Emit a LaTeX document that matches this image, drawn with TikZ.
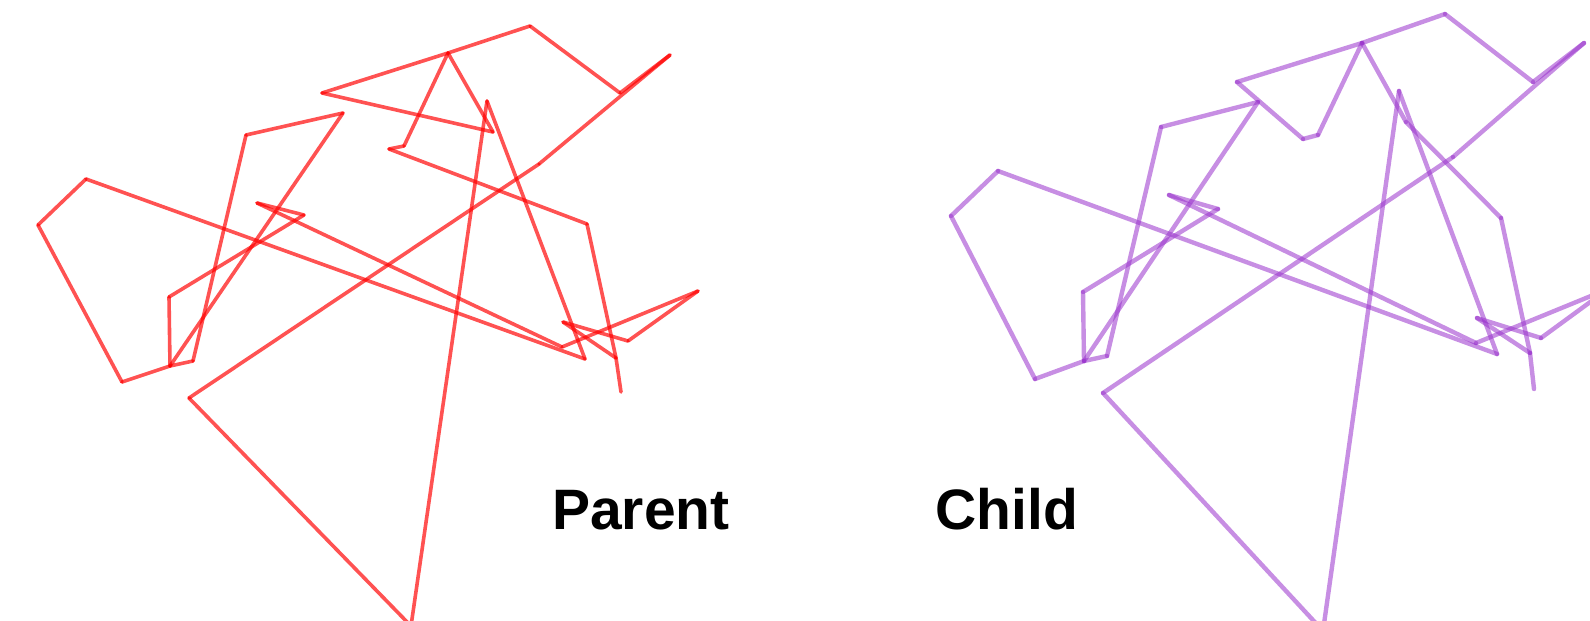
\documentclass[tikz,border=0pt]{standalone}
\usepackage{fontspec}
\setmainfont{Liberation Sans}
\definecolor{childcol}{RGB}{153,50,204}
\begin{document}
\begin{tikzpicture}[x=1pt,y=-1pt,
  parentedge/.style={draw=red, draw opacity=0.68, line width=3.6pt, line cap=round},
  childedge/.style={draw=childcol, draw opacity=0.55, line width=4.4pt, line cap=round},
  lbl/.style={font=\fontsize{57}{60}\selectfont\bfseries, anchor=base west, inner sep=0pt, text=black}]
\useasboundingbox (0,0) rectangle (1590,621);
\clip (0,0) rectangle (1590,621);
% parent tour vertices
\foreach \n/\x/\y in {A/322/93, P/448/53, O/530/26, T/620/93, U/670/55, V/539/164,
  L/189/398, N/411/626, M/487/101, AA/585/359, D/86/179, E/38/225, I/122/382,
  J/170/366, H/169/297, G/304/215, F/257/203, BB/562/347, W/698/291, X/628/341,
  Y/563/322, Z/616/358, Ed/621/392, S/587/224, RB/389/149, RA/404/146, Q/493/132,
  K/193/361, C/246/135, B/343/113}
  \coordinate (p\n) at (\x,\y);
% child tour vertices
\foreach \n/\x/\y in {A/1237/82, P/1362/43, O/1445/14, T/1533/82, U/1584/43, V/1453/157,
  L/1103/393, N/1323/631, M/1399/91, AA/1497/354, D/998/171, E/951/216, I/1035/379,
  J/1084/361, H/1083/292, G/1218/209, F/1169/195, BB/1476/343, W/1608/289, X/1541/338,
  Y/1477/318, Z/1530/353, Ed/1534/389, S/1501/218, RB/1303/139, RA/1318/135, Q/1406/122,
  K/1107/356, C/1161/127, B/1258/102}
  \coordinate (c\n) at (\x,\y);
% parent edges
\foreach \a/\b in {A/P, P/O, O/T, T/U, U/V, V/L, L/N, N/M, M/AA, AA/D, D/E, E/I, I/J,
  J/H, H/G, G/F, F/BB, BB/W, W/X, X/Y, Y/Z, Z/Ed, S/Z, RB/S, RB/RA, RA/P, P/Q, Q/A,
  J/K, K/C, C/B, B/J}
  \draw[parentedge] (p\a) -- (p\b);
% child edges
\foreach \a/\b in {A/P, P/O, O/T, T/U, U/V, V/L, L/N, N/M, M/AA, AA/D, D/E, E/I, I/J,
  J/H, H/G, G/F, F/BB, BB/W, W/X, X/Y, Y/Z, Z/Ed, S/Z, Q/S, P/Q, P/RA, RA/RB, RB/A,
  J/K, K/C, C/B, B/J}
  \draw[childedge] (c\a) -- (c\b);
\node[lbl] (parentlabel) at (552,529) {Parent};
\node[lbl] (childlabel) at (935.5,529) {Child};
\end{tikzpicture}
\end{document}
